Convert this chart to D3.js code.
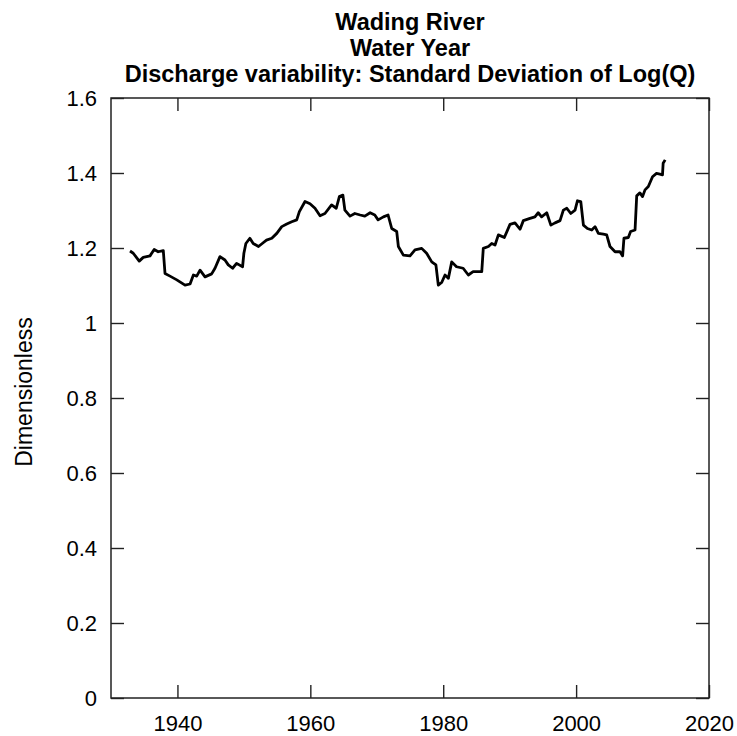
<!DOCTYPE html>
<html>
<head>
<meta charset="utf-8">
<script src="https://cdn.jsdelivr.net/npm/d3@7"></script>
<style>
  body { margin: 0; background: #fff; }
  text { font-family: "Liberation Sans", Arial, sans-serif; fill: #000; }
</style>
</head>
<body>
<div id="chart"></div>
<script>
// values
const years = [
  1932.86, 1933.35, 1934.25, 1934.85, 1935.87, 1936.5, 1937.1, 1937.87, 1938.13, 1938.88,
  1939.9, 1941.14, 1941.9, 1942.4, 1942.9, 1943.4, 1944.15, 1945.15, 1945.65, 1946.4,
  1947.15, 1947.65, 1948.3, 1948.9, 1949.8, 1950.0, 1950.3, 1950.9, 1951.4, 1952.2,
  1952.9, 1953.4, 1954.2, 1954.95, 1955.7, 1956.45, 1957.2, 1957.95, 1958.35, 1959.2,
  1959.95, 1960.7, 1961.46, 1962.2, 1963.2, 1963.9, 1964.37, 1964.9, 1965.2, 1965.97,
  1966.7, 1967.5, 1968.2, 1969.0, 1969.7, 1970.2, 1971.0, 1971.7, 1972.25, 1973.0,
  1973.25, 1974.0, 1975.0, 1975.75, 1976.76, 1977.5, 1978.27, 1978.9, 1979.26, 1979.77,
  1980.27, 1980.77, 1981.28, 1982.0, 1983.0, 1983.78, 1984.5, 1985.8, 1986.03, 1986.8,
  1987.3, 1987.8, 1988.3, 1989.2, 1990.05, 1990.8, 1991.56, 1992.06, 1993.06, 1993.8,
  1994.3, 1994.8, 1995.58, 1996.2, 1996.83, 1997.58, 1998.08, 1998.6, 1999.2, 1999.84,
  2000.2, 2000.7, 2001.1, 2001.7, 2002.35, 2002.85, 2003.35, 2004.1, 2004.6, 2005.1,
  2005.86, 2006.6, 2007.0, 2007.2, 2007.86, 2008.2, 2008.87, 2009.12, 2009.6, 2010.0,
  2010.37, 2010.87, 2011.5, 2012.1, 2012.6, 2013.0, 2013.1, 2013.4
];
const sdLogQ = [
  1.192, 1.186, 1.165, 1.175, 1.179, 1.196, 1.19, 1.193, 1.132, 1.125,
  1.115, 1.101, 1.104, 1.128, 1.125, 1.141, 1.123, 1.131, 1.146, 1.177,
  1.168, 1.155, 1.146, 1.159, 1.15, 1.186, 1.212, 1.226, 1.212, 1.204,
  1.214, 1.221, 1.226, 1.239, 1.257, 1.264, 1.27, 1.275, 1.297, 1.324,
  1.318, 1.306, 1.286, 1.292, 1.315, 1.306, 1.337, 1.341, 1.301, 1.285,
  1.292, 1.288, 1.285, 1.294, 1.288, 1.275, 1.283, 1.288, 1.252, 1.244,
  1.204, 1.181, 1.179, 1.195, 1.199, 1.186, 1.163, 1.155, 1.101, 1.108,
  1.128, 1.119, 1.163, 1.15, 1.146, 1.128, 1.137, 1.137, 1.199, 1.204,
  1.212, 1.208, 1.235, 1.228, 1.263, 1.267, 1.25, 1.273, 1.279, 1.283,
  1.294, 1.283, 1.294, 1.261, 1.267, 1.273, 1.301, 1.306, 1.292, 1.301,
  1.326, 1.324, 1.261, 1.252, 1.248, 1.257, 1.239, 1.237, 1.235, 1.204,
  1.19, 1.19, 1.179, 1.226, 1.228, 1.244, 1.248, 1.339, 1.347, 1.337,
  1.355, 1.364, 1.39, 1.399, 1.397, 1.395, 1.426, 1.435
];
const xTicks = [1940, 1960, 1980, 2000, 2020];
const yTicks = [0, 0.2, 0.4, 0.6, 0.8, 1, 1.2, 1.4, 1.6];
const titleLines = ["Wading River", "Water Year", "Discharge variability: Standard Deviation of Log(Q)"];
const yLabel = "Dimensionless";

const W = 737, H = 736;
const margin = { top: 98, right: 28, bottom: 38, left: 111 };
const width = W - margin.left - margin.right,
  height = H - margin.top - margin.bottom;

const svg = d3.select("#chart").append("svg")
  .attr("width", W).attr("height", H);

const g = svg.append("g")
  .attr("transform", "translate(" + margin.left + "," + margin.top + ")");

const x = d3.scaleLinear().domain([1930, 2020]).range([0, width]);
const y = d3.scaleLinear().domain([0, 1.6]).range([height, 0]);

const fmt = d => (d === 0 || d === 1) ? String(d) : d3.format(".1f")(d);
const tickLen = 13;

// axes, ticks pointing inward on all four sides
const axBottom = g.append("g").attr("transform", "translate(0," + height + ")")
  .call(d3.axisBottom(x).tickValues(xTicks).tickSize(-tickLen).tickPadding(17).tickFormat(d3.format("d")));
const axTop = g.append("g")
  .call(d3.axisTop(x).tickValues(xTicks).tickSize(-tickLen).tickFormat(""));
const axLeft = g.append("g")
  .call(d3.axisLeft(y).tickValues(yTicks).tickSize(-tickLen).tickPadding(14).tickFormat(fmt));
const axRight = g.append("g").attr("transform", "translate(" + width + ",0)")
  .call(d3.axisRight(y).tickValues(yTicks).tickSize(-tickLen).tickFormat(""));

[axBottom, axTop, axLeft, axRight].forEach(a => {
  a.select(".domain").remove();
  a.selectAll(".tick line").attr("stroke", "#222").attr("stroke-width", 1.4);
  a.selectAll(".tick text").attr("font-size", 22).attr("font-family", "Liberation Sans, Arial, sans-serif").attr("fill", "#000");
});

g.append("rect")
  .attr("width", width).attr("height", height)
  .attr("fill", "none").attr("stroke", "#222").attr("stroke-width", 1.5);

// the series
const pts = years.map((yr, i) => [yr, sdLogQ[i]]);
g.append("path")
  .datum(pts)
  .attr("fill", "none")
  .attr("stroke", "#000")
  .attr("stroke-width", 2.8)
  .attr("stroke-linejoin", "round")
  .attr("d", d3.line().x(d => x(d[0])).y(d => y(d[1])));

// titles
svg.selectAll(".title").data(titleLines).enter().append("text")
  .attr("class", "title")
  .attr("x", margin.left + width / 2)
  .attr("y", (d, i) => 30 + i * 26)
  .attr("text-anchor", "middle")
  .attr("font-weight", "bold")
  .attr("font-size", 23.5)
  .text(d => d);

svg.append("text")
  .attr("transform", "translate(32,392) rotate(-90)")
  .attr("text-anchor", "middle")
  .attr("font-size", 23)
  .text(yLabel);
</script>
</body>
</html>
